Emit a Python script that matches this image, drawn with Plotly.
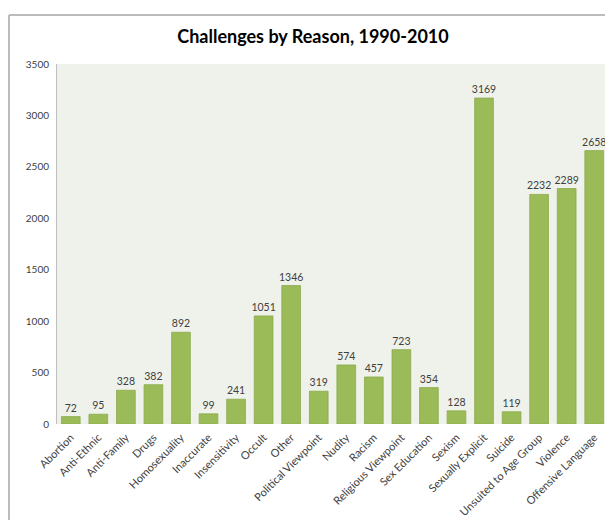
import plotly.graph_objects as go

categories = ["Abortion", "Anti-Ethnic", "Anti-Family", "Drugs", "Homosexuality", "Inaccurate",
              "Insensitivity", "Occult", "Other", "Political Viewpoint", "Nudity", "Racism",
              "Religious Viewpoint", "Sex Education", "Sexism", "Sexually Explicit", "Suicide",
              "Unsuited to Age Group", "Violence", "Offensive Language"]
values = [72, 95, 328, 382, 892, 99, 241, 1051, 1346, 319, 574, 457, 723, 354, 128, 3169,
          119, 2232, 2289, 2658]
y_ticks = [0, 500, 1000, 1500, 2000, 2500, 3000, 3500]

FONT = "Lato"
OFF = 8  # page body margin
W, H = 613 - OFF, 520 - OFF
L, R, T, B = 57 - OFF, 5, 64 - OFF, 96
pw, ph = W - L - R, H - T - B

fig = go.Figure(go.Bar(
    x=categories, y=values,
    text=[str(v) for v in values], textposition="outside", textangle=0,
    constraintext="none",
    textfont=dict(family=FONT, size=10.5, color="#404040"),
    marker=dict(color="#9BBB59", line=dict(color="#8CAB4C", width=0.8)),
    cliponaxis=False,
))

fig.update_layout(
    width=W, height=H,
    margin=dict(l=L, r=R, t=T, b=B, autoexpand=False),
    paper_bgcolor="white",
    plot_bgcolor="#EFF2EA",
    bargap=0.32,
    showlegend=False,
    title=dict(text="<b>Challenges by Reason, 1990-2010</b>", x=(313 - OFF) / W, xanchor="center",
               y=1 - (37 - OFF) / H, yanchor="middle",
               font=dict(family=FONT, size=18, color="#000000")),
    xaxis=dict(tickangle=-45, tickfont=dict(family=FONT, size=11, color="#404040"),
               showline=False, ticks="", showgrid=False, automargin=False,
               ticklabelstandoff=4),
    yaxis=dict(range=[0, 3500], tickvals=y_ticks, showgrid=False, zeroline=False,
               showline=True, linecolor="#BFBFBF", linewidth=1, ticks="", automargin=False,
               ticklabelstandoff=5,
               tickfont=dict(family=FONT, size=10, color="#404040")),
)

# outer chart frame (left and top edges visible)
fx0 = (1 - L) / pw
fy1 = 1 + (T - 7) / ph
fig.add_shape(type="line", xref="paper", yref="paper", x0=fx0, x1=fx0, y0=-2, y1=fy1,
              line=dict(color="#A6A6A6", width=1.5))
fig.add_shape(type="line", xref="paper", yref="paper", x0=fx0, x1=2, y0=fy1, y1=fy1,
              line=dict(color="#A6A6A6", width=1.5))

fig.write_html("out.html")
